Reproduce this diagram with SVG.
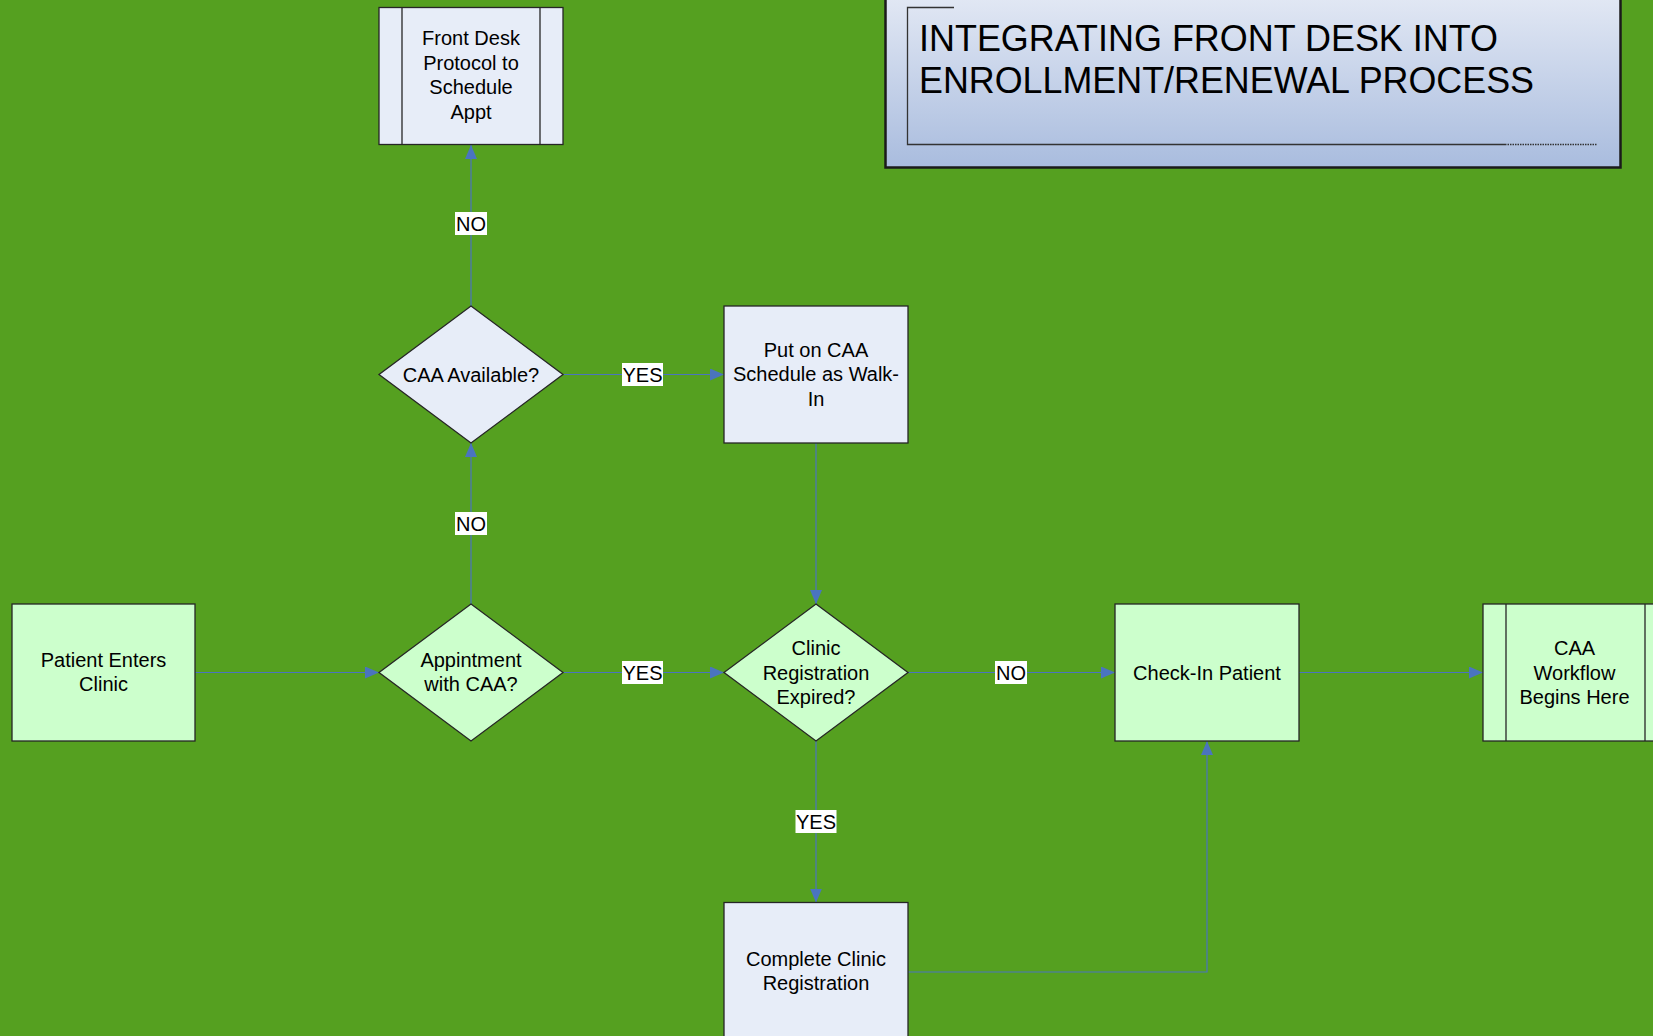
<svg xmlns="http://www.w3.org/2000/svg" width="1653" height="1036" viewBox="0 0 1653 1036">
<style>
.bg{fill:#55a020}
.g{fill:#ccffcc;stroke:#262626;stroke-width:1.3}
.b{fill:#e7edf8;stroke:#262626;stroke-width:1.3}
.in{stroke:#262626;stroke-width:1.3;fill:none}
.t{font-family:"Liberation Sans",Arial,sans-serif;font-size:20px;fill:#000;text-anchor:middle}
.c{stroke:#4a74bf;stroke-width:1.2;fill:none}
.lb{fill:#ffffff}
.title{font-family:"Liberation Sans",Arial,sans-serif;font-size:37px;fill:#000}
</style>
<defs>
<linearGradient id="tg" x1="0" y1="0" x2="0" y2="1">
<stop offset="0" stop-color="#e2e8f4"/>
<stop offset="1" stop-color="#a9bcde"/>
</linearGradient>
<marker id="ah" markerUnits="userSpaceOnUse" markerWidth="14" markerHeight="12" viewBox="0 0 14 12" refX="14" refY="6" orient="auto">
<path d="M0,0 L14,6 L0,12 Z" fill="#4a74bf"/>
</marker>
</defs>
<rect class="bg" x="0" y="0" width="1653" height="1036"/>

<g id="title">
<rect x="885.5" y="-4" width="735" height="171.5" fill="url(#tg)" stroke="#1a1a1a" stroke-width="2.5"/>
<path d="M954,7.5 H907.5 V144.5 H1505" stroke="#333" stroke-width="1.3" fill="none"/>
<path d="M1505,144.5 H1597" stroke="#333" stroke-width="1.3" stroke-dasharray="1.5,1" fill="none"/>
<text class="title" x="919" y="50.5" textLength="579" lengthAdjust="spacingAndGlyphs">INTEGRATING FRONT DESK INTO</text>
<text class="title" x="919" y="92.5" textLength="615" lengthAdjust="spacingAndGlyphs">ENROLLMENT/RENEWAL PROCESS</text>
</g>

<g id="connectors">
<line class="c" x1="195" y1="672.5" x2="379" y2="672.5" marker-end="url(#ah)"/>
<line class="c" x1="471" y1="604" x2="471" y2="443" marker-end="url(#ah)"/>
<line class="c" x1="471" y1="306" x2="471" y2="145" marker-end="url(#ah)"/>
<line class="c" x1="563" y1="374.5" x2="724" y2="374.5" marker-end="url(#ah)"/>
<line class="c" x1="563" y1="672.5" x2="724" y2="672.5" marker-end="url(#ah)"/>
<line class="c" x1="816" y1="443" x2="816" y2="604" marker-end="url(#ah)"/>
<line class="c" x1="908" y1="672.5" x2="1115" y2="672.5" marker-end="url(#ah)"/>
<line class="c" x1="816" y1="741" x2="816" y2="902.5" marker-end="url(#ah)"/>
<polyline class="c" points="908,972 1207,972 1207,741" marker-end="url(#ah)"/>
<line class="c" x1="1299" y1="672.5" x2="1483" y2="672.5" marker-end="url(#ah)"/>
<g id="labels">
<rect class="lb" x="455" y="212" width="32" height="23"/>
<text class="t" x="471" y="231">NO</text>
<rect class="lb" x="455" y="512" width="32" height="23"/>
<text class="t" x="471" y="531">NO</text>
<rect class="lb" x="622" y="363" width="41" height="23"/>
<text class="t" x="642.5" y="382">YES</text>
<rect class="lb" x="622" y="661" width="41" height="23"/>
<text class="t" x="642.5" y="680">YES</text>
<rect class="lb" x="995" y="661" width="32" height="23"/>
<text class="t" x="1011" y="680">NO</text>
<rect class="lb" x="795.5" y="810" width="41" height="23"/>
<text class="t" x="816" y="829">YES</text>
</g>
</g>

<g id="patient-enters">
<rect class="g" x="12" y="604" width="183" height="137"/>
<text class="t" x="103.5" y="667">Patient Enters</text>
<text class="t" x="103.5" y="691">Clinic</text>
</g>

<g id="appointment-caa">
<polygon class="g" points="471,604 563,672.5 471,741 379,672.5"/>
<text class="t" x="471" y="667">Appintment</text>
<text class="t" x="471" y="691">with CAA?</text>
</g>

<g id="caa-available">
<polygon class="b" points="471,306 563,374.5 471,443 379,374.5"/>
<text class="t" x="471" y="381.5">CAA Available?</text>
</g>

<g id="front-desk">
<rect class="b" x="379" y="7.5" width="184" height="137"/>
<line class="in" x1="402" y1="7.5" x2="402" y2="144.5"/>
<line class="in" x1="540" y1="7.5" x2="540" y2="144.5"/>
<text class="t" x="471" y="45">Front Desk</text>
<text class="t" x="471" y="69.5">Protocol to</text>
<text class="t" x="471" y="94">Schedule</text>
<text class="t" x="471" y="118.5">Appt</text>
</g>

<g id="put-on-schedule">
<rect class="b" x="724" y="306" width="184" height="137"/>
<text class="t" x="816" y="356.5">Put on CAA</text>
<text class="t" x="816" y="381">Schedule as Walk-</text>
<text class="t" x="816" y="405.5">In</text>
</g>

<g id="registration-expired">
<polygon class="g" points="816,604 908,672.5 816,741 724,672.5"/>
<text class="t" x="816" y="655">Clinic</text>
<text class="t" x="816" y="679.5">Registration</text>
<text class="t" x="816" y="704">Expired?</text>
</g>

<g id="check-in">
<rect class="g" x="1115" y="604" width="184" height="137"/>
<text class="t" x="1207" y="679.5">Check-In Patient</text>
</g>

<g id="caa-workflow">
<rect class="g" x="1483" y="604" width="184" height="137"/>
<line class="in" x1="1506" y1="604" x2="1506" y2="741"/>
<line class="in" x1="1645" y1="604" x2="1645" y2="741"/>
<text class="t" x="1574.5" y="655">CAA</text>
<text class="t" x="1574.5" y="679.5">Workflow</text>
<text class="t" x="1574.5" y="704">Begins Here</text>
</g>

<g id="complete-registration">
<rect class="b" x="724" y="902.5" width="184" height="137"/>
<text class="t" x="816" y="965.5">Complete Clinic</text>
<text class="t" x="816" y="990">Registration</text>
</g>
</svg>
